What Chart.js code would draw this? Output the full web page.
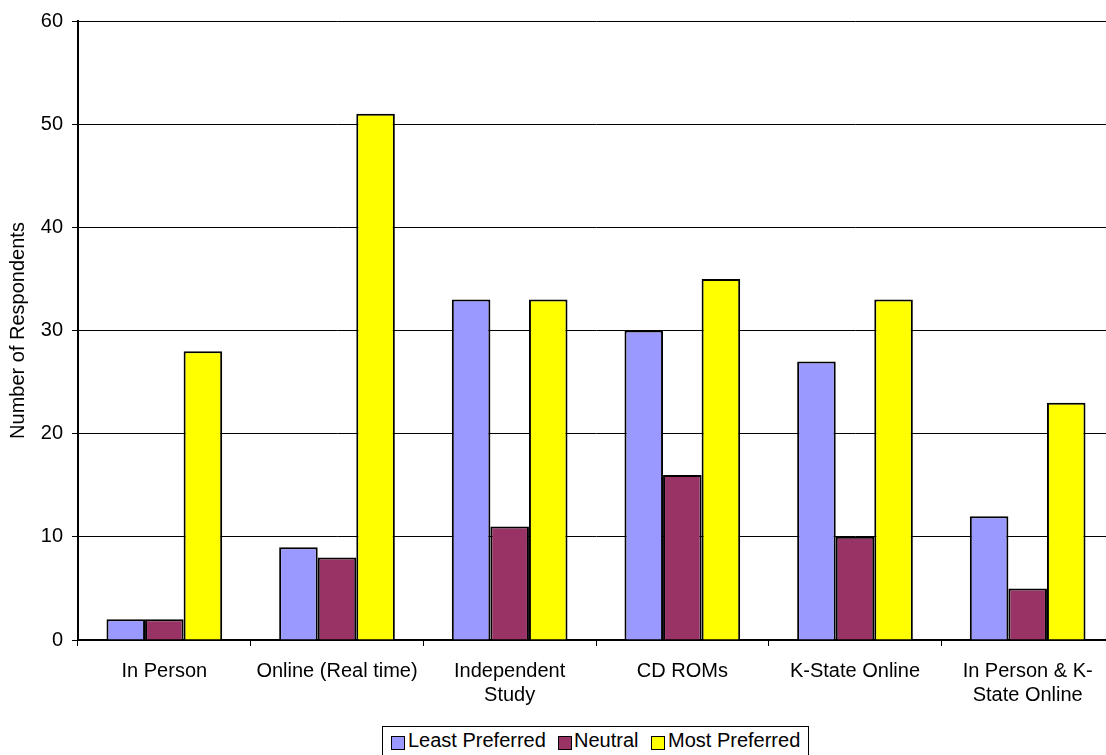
<!DOCTYPE html>
<html>
<head>
<meta charset="utf-8">
<script src="https://cdn.jsdelivr.net/npm/chart.js@4/dist/chart.umd.min.js"></script>
<style>
  html, body { margin:0; padding:0; background:#fff; overflow:hidden; width:1106px; height:755px; }
  #wrap { position:absolute; left:0; top:0; width:1114px; height:755px; }
  #legend { position:absolute; left:382px; top:726px; width:427px; height:40px; border:1px solid #000; box-sizing:border-box; background:#fff;
            font-family:"Liberation Sans", Arial, sans-serif; font-size:20px; color:#000; }
  .mk { position:absolute; top:9px; width:12px; height:12px; border:1px solid #000; }
  .lt { position:absolute; top:1px; line-height:24px; white-space:nowrap; }
</style>
</head>
<body>
<div id="wrap"><canvas id="c" width="1114" height="755"></canvas></div>
<div id="legend"></div>
<script>
const categories = ["In Person", ["Online (Real time)"], ["Independent", "Study"], "CD ROMs", "K-State Online", ["In Person & K-", "State Online"]];
const seriesNames = ["Least Preferred", "Neutral", "Most Preferred"];
const leastPreferred = [2, 9, 33, 30, 27, 12];
const neutral = [2, 8, 11, 16, 10, 5];
const mostPreferred = [28, 51, 33, 35, 33, 23];
const seriesColors = ["#9999FF", "#993366", "#FFFF00"];
const yTitle = "Number of Respondents";

const FONT = "'Liberation Sans', Arial, sans-serif";
const values = [leastPreferred, neutral, mostPreferred];

new Chart(document.getElementById('c'), {
  type: 'bar',
  data: {
    labels: categories,
    datasets: seriesNames.map((n, i) => ({
      label: n,
      data: values[i],
      backgroundColor: seriesColors[i],
      borderColor: '#000',
      borderWidth: 2,
      categoryPercentage: 0.67,
      barPercentage: 1.0
    }))
  },
  options: {
    responsive: false,
    animation: false,
    layout: { padding: { left: 0, right: 0, top: 17, bottom: 0 } },
    plugins: { legend: { display: false }, tooltip: { enabled: false } },
    scales: {
      x: {
        afterFit: s => { s.height = 115; },
        grid: { offset: true, drawOnChartArea: false, drawTicks: true, tickLength: 6, color: '#000', lineWidth: 1 },
        border: { color: '#000', width: 2 },
        ticks: { color: '#000', font: { family: FONT, size: 20 }, padding: 13, maxRotation: 0, autoSkip: false }
      },
      y: {
        min: 0, max: 60,
        afterFit: s => { s.width = 78; },
        grid: { color: '#000', lineWidth: 1, drawTicks: true, tickLength: 6 },
        border: { color: '#000', width: 2 },
        ticks: { stepSize: 10, color: '#000', font: { family: FONT, size: 20 }, padding: 9 },
        title: { display: true, text: yTitle, color: '#000', font: { family: FONT, size: 20 }, padding: { top: 6, bottom: 0 } }
      }
    }
  }
});

// HTML legend built from the series arrays
const lg = document.getElementById('legend');
const mkX = [8, 175, 268];
const txX = [25, 191, 285];
seriesNames.forEach((n, i) => {
  const m = document.createElement('div');
  m.className = 'mk'; m.style.left = mkX[i] + 'px'; m.style.background = seriesColors[i];
  const t = document.createElement('div');
  t.className = 'lt'; t.style.left = txX[i] + 'px'; t.textContent = n;
  lg.appendChild(m); lg.appendChild(t);
});
</script>
</body>
</html>
